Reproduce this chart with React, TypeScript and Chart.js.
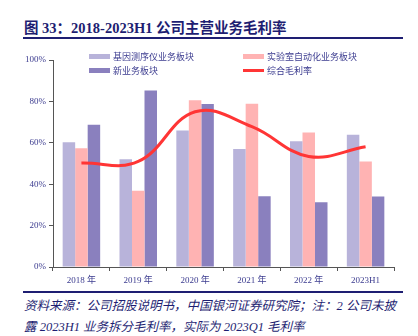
import React, { useEffect, useRef } from "react";
import { Chart, registerables } from "chart.js";

Chart.register(...registerables);

const categories = ["2018 年", "2019 年", "2020 年", "2021 年", "2022 年", "2023H1"];
const seqValues = [60.3, 52.1, 66.0, 57.0, 60.8, 63.9];
const labValues = [57.4, 36.8, 80.5, 78.9, 65.0, 51.0];
const newValues = [68.7, 85.3, 78.7, 34.2, 31.3, 34.0];
const marginValues = [50.2, 51.0, 75.0, 67.8, 53.4, 58.1];
const yTicks = [0, 20, 40, 60, 80, 100];

const seriesNames = ["基因测序仪业务板块", "实验室自动化业务板块", "新业务板块", "综合毛利率"];

const C1 = "#b8b3da";
const C2 = "#ffb3b3";
const C3 = "#8a80be";
const CL = "#ff3535";
const NAVY = "#1e1e72";
const TXT = "#3b3b8f";

export default function App() {
  const ref = useRef<HTMLCanvasElement>(null);
  useEffect(() => {
    if (!ref.current) return;
    const chart = new Chart(ref.current, {
      type: "bar",
      data: {
        labels: categories,
        datasets: [
          { type: "line", label: seriesNames[3], data: marginValues, borderColor: CL, backgroundColor: CL, borderWidth: 3, pointRadius: 0, tension: 0.4, order: 0 } as any,
          { label: seriesNames[0], data: seqValues, backgroundColor: C1, order: 1 },
          { label: seriesNames[1], data: labValues, backgroundColor: C2, order: 1 },
          { label: seriesNames[2], data: newValues, backgroundColor: C3, order: 1 },
        ],
      },
      options: {
        animation: false,
        responsive: false,
        maintainAspectRatio: false,
        layout: { padding: { left: 0, right: 24, top: 60, bottom: 0 } },
        plugins: { legend: { display: false }, tooltip: { enabled: false } },
        datasets: { bar: { categoryPercentage: 0.66, barPercentage: 1.0 } },
        scales: {
          x: {
            offset: true,
            grid: { display: true, offset: true, drawOnChartArea: false, drawTicks: true, tickLength: 4, color: "#555" },
            border: { display: true, color: "#555", width: 1 },
            ticks: { color: TXT, padding: 4, font: { family: "'Liberation Serif', 'Noto Sans CJK SC', serif", size: 9 } },
            afterFit: (s: any) => { s.height = 23; },
          },
          y: {
            min: 0,
            max: 100,
            afterBuildTicks: (s: any) => { s.ticks = yTicks.map((v) => ({ value: v })); },
            grid: { display: true, drawOnChartArea: false, drawTicks: true, tickLength: 4, color: "#555" },
            border: { display: true, color: "#555", width: 1 },
            ticks: { color: TXT, padding: 3, font: { family: "'Liberation Serif', serif", size: 9 }, callback: (v: any) => v + "%" },
            afterFit: (s: any) => { s.width = 53; },
          },
        },
      },
    });
    return () => chart.destroy();
  }, []);

  const legendFont = "'Liberation Serif', 'Noto Sans CJK SC', serif";
  const item = (x: number, y: number, color: string, text: string, line?: boolean) => (
    <div style={{ position: "absolute", left: x, top: y - 7, height: 14, display: "flex", alignItems: "center", fontSize: 9, color: TXT, fontFamily: legendFont, whiteSpace: "nowrap" }}>
      <span style={{ display: "inline-block", width: 21, height: line ? 3 : 5, background: color, marginRight: 3 }} />
      {text}
    </div>
  );

  return (
    <div style={{ position: "absolute", left: 0, top: 0, width: 418, height: 336, background: "#fff", overflow: "hidden" }}>
      <div style={{ position: "absolute", left: 24, top: 16, fontSize: 14.5, fontWeight: "bold", color: NAVY, fontFamily: "'Liberation Serif', 'Noto Sans CJK SC', serif", whiteSpace: "nowrap" }}>
        图 33：2018-2023H1 公司主营业务毛利率
      </div>
      <div style={{ position: "absolute", left: 23, top: 37, width: 380, height: 2, background: NAVY }} />
      <canvas ref={ref} width={418} height={290} style={{ position: "absolute", left: 0, top: 0, width: 418, height: 290 }} />
      {item(89, 56, C1, seriesNames[0])}
      {item(243, 56, C2, seriesNames[1])}
      {item(89, 70, C3, seriesNames[2])}
      {item(243, 70, CL, seriesNames[3], true)}
      <div style={{ position: "absolute", left: 23, top: 291, width: 380, height: 2, background: NAVY }} />
      <div style={{ position: "absolute", left: 24, top: 296, fontSize: 12.5, lineHeight: "21px", fontStyle: "italic", color: NAVY, fontFamily: "'Liberation Serif', 'Noto Sans CJK SC', serif", whiteSpace: "nowrap" }}>
        资料来源：公司招股说明书，中国银河证券研究院；注：2 公司未披
        <br />
        露 2023H1 业务拆分毛利率，实际为 2023Q1 毛利率
      </div>
    </div>
  );
}
